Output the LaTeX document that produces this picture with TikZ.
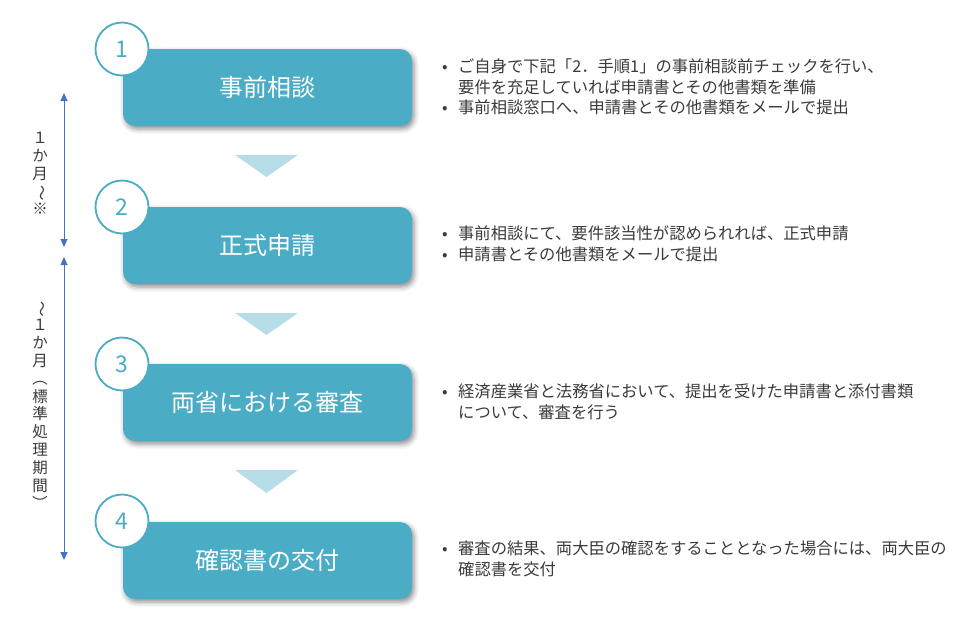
\documentclass[tikz,border=0pt]{standalone}
\usepackage{fontspec}
\setmainfont{Noto Sans CJK JP}
\usepackage{graphicx}
\usetikzlibrary{arrows.meta,shadows.blur}
\definecolor{boxc}{HTML}{4BACC6}
\definecolor{triC}{HTML}{B7DEE8}
\definecolor{arrC}{HTML}{4472C4}
\definecolor{txtC}{HTML}{3A3A3A}
\newcommand{\vrt}[1]{\rotatebox[origin=c]{-90}{#1}}
\newcommand{\bul}{\makebox[16pt][l]{•}}
\newcommand{\hind}{\hspace*{16pt}}
\begin{document}
\begin{tikzpicture}[x=1pt,y=-1pt,
 stepbox/.style={rectangle, rounded corners=12pt, fill=boxc, minimum width=289pt, minimum height=77pt, text=white, font=\fontsize{24}{28}\selectfont, blur shadow={shadow xshift=2pt, shadow yshift=-3pt, shadow blur radius=5pt, shadow opacity=45}},
 numcirc/.style={circle, draw=boxc, line width=1.8pt, fill=white, minimum size=53pt, inner sep=0pt, text=boxc, font=\fontsize{23}{26}\selectfont},
 tri/.style={fill=triC},
 desc/.style={anchor=north west, inner sep=0pt, align=left, text=txtC, font=\fontsize{16.3}{20.5}\selectfont},
 vlabel/.style={align=center, inner sep=0pt, text=txtC, font=\fontsize{15.5}{17.8}\selectfont},
 span/.style={draw=arrC, line width=1pt, {Triangle[width=7pt,length=8pt]}-{Triangle[width=7pt,length=8pt]}}
]
\useasboundingbox (0,0) rectangle (966,638);
% boxes
\node[stepbox] (b1) at (267.5,87.5) {事前相談};
\node[stepbox] (b2) at (267.5,245.5) {正式申請};
\node[stepbox] (b3) at (267.5,402.5) {両省における審査};
\node[stepbox] (b4) at (267.5,560.5) {確認書の交付};
% circles
\node[numcirc] (c1) at (122,49) {1};
\node[numcirc] (c2) at (122,207) {2};
\node[numcirc] (c3) at (122,364) {3};
\node[numcirc] (c4) at (122,521) {4};
% triangles
\fill[tri] (235,155) -- (298,155) -- (266.5,177) -- cycle;
\fill[tri] (235,313) -- (298,313) -- (266.5,335) -- cycle;
\fill[tri] (235,470) -- (298,470) -- (266.5,493) -- cycle;
% descriptions
\node[desc] (d1) at (442,59) {\bul ご自身で下記「2．手順1」の事前相談前チェックを行い、\\\hind 要件を充足していれば申請書とその他書類を準備\\\bul 事前相談窓口へ、申請書とその他書類をメールで提出};
\node[desc] (d2) at (442,226) {\bul 事前相談にて、要件該当性が認められれば、正式申請\\\bul 申請書とその他書類をメールで提出};
\node[desc] (d3) at (442,384) {\bul 経済産業省と法務省において、提出を受けた申請書と添付書類\\\hind について、審査を行う};
\node[desc] (d4) at (442,541) {\bul 審査の結果、両大臣の確認をすることとなった場合には、両大臣の\\\hind 確認書を交付};
% left spans
\coordinate (s1t) at (64,93);
\coordinate (s1b) at (64,247);
\coordinate (s2t) at (64,257);
\coordinate (s2b) at (64,560);
\draw[span] (s1t) -- (s1b);
\draw[span] (s2t) -- (s2b);
\node[vlabel] (v1) at (40,173.5) {１\\か\\月\\\vrt{～}\\※};
\node[vlabel] (v2) at (40,406) {\vrt{～}\\１\\か\\月\\\vrt{（}\\標\\準\\処\\理\\期\\間\\\vrt{）}};
\end{tikzpicture}
\end{document}
